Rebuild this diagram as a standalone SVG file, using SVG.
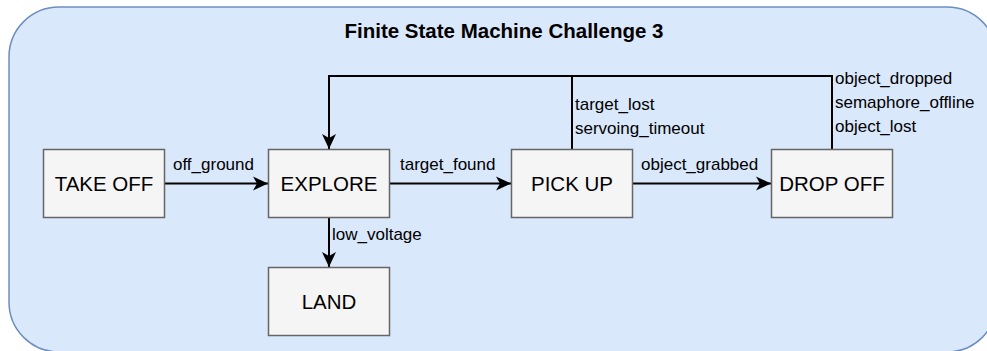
<svg xmlns="http://www.w3.org/2000/svg" width="987" height="351" viewBox="0 0 987 351">
  <style>
    .frame { fill: #dae8fc; stroke: #6c8ebf; stroke-width: 1.5; }
    .state rect { fill: #f5f5f5; stroke: #666666; stroke-width: 1.5; }
    .state text { font-family: "Liberation Sans", Arial, sans-serif; font-size: 20.5px; fill: #000; text-anchor: middle; }
    .edge { fill: none; stroke: #000; stroke-width: 2; }
    .lbl { font-family: "Liberation Sans", Arial, sans-serif; font-size: 17px; fill: #000; }
    .title { font-family: "Liberation Sans", Arial, sans-serif; font-size: 20.5px; font-weight: bold; fill: #000; text-anchor: middle; }
  </style>
  <defs>
    <marker id="arrow" markerUnits="userSpaceOnUse" markerWidth="17" markerHeight="16" refX="16" refY="8" orient="auto">
      <path d="M16,8 L1,1 L5,8 L1,15 Z" fill="#000"/>
    </marker>
  </defs>

  <!-- container -->
  <g id="container">
    <rect class="frame" x="9" y="7" width="988" height="345" rx="50" ry="50"/>
    <text class="title" x="504" y="38">Finite State Machine Challenge 3</text>
  </g>

  <!-- transitions -->
  <g id="connectors">
    <path class="edge" d="M165,183.5 H268" marker-end="url(#arrow)"/>
    <path class="edge" d="M390,183.5 H511" marker-end="url(#arrow)"/>
    <path class="edge" d="M632,183.5 H771" marker-end="url(#arrow)"/>
    <path class="edge" d="M329,218 V267" marker-end="url(#arrow)"/>
    <path class="edge" d="M572,149 V76 H329 V149" marker-end="url(#arrow)"/>
    <path class="edge" d="M832,149 V76 H572"/>
    <text class="lbl" x="173" y="170">off_ground</text>
    <text class="lbl" x="400" y="170">target_found</text>
    <text class="lbl" x="641" y="170">object_grabbed</text>
    <text class="lbl" x="332" y="240">low_voltage</text>
    <text class="lbl" x="575" y="110">target_lost</text>
    <text class="lbl" x="575" y="134">servoing_timeout</text>
    <text class="lbl" x="835" y="84">object_dropped</text>
    <text class="lbl" x="835" y="108">semaphore_offline</text>
    <text class="lbl" x="835" y="132">object_lost</text>
  </g>

  <!-- states -->
  <g id="take-off" class="state">
    <rect x="43.5" y="149.5" width="121" height="68"/>
    <text x="104" y="190.5">TAKE OFF</text>
  </g>
  <g id="explore" class="state">
    <rect x="268.5" y="149.5" width="121" height="68"/>
    <text x="329" y="190.5">EXPLORE</text>
  </g>
  <g id="land" class="state">
    <rect x="268.5" y="267.5" width="121" height="68"/>
    <text x="329" y="308.5">LAND</text>
  </g>
  <g id="pick-up" class="state">
    <rect x="511.5" y="149.5" width="121" height="68"/>
    <text x="572" y="190.5">PICK UP</text>
  </g>
  <g id="drop-off" class="state">
    <rect x="771.5" y="149.5" width="121" height="68"/>
    <text x="832" y="190.5">DROP OFF</text>
  </g>
</svg>
